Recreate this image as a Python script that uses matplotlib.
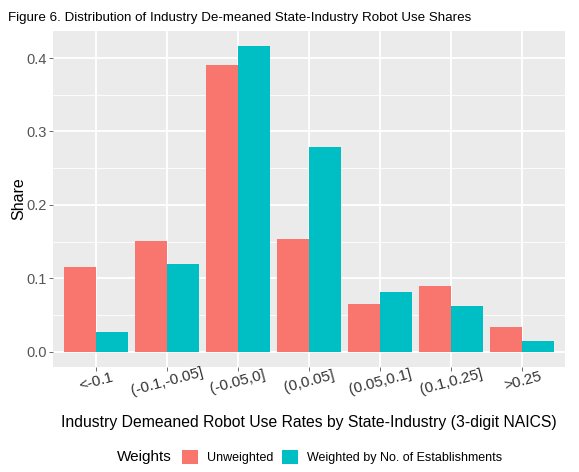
import numpy as np
import matplotlib
matplotlib.use("Agg")
import matplotlib.pyplot as plt
from matplotlib.patches import Patch

# data
categories = ["<-0.1", "(-0.1,-0.05]", "(-0.05,0]", "(0,0.05]",
              "(0.05,0.1]", "(0.1,0.25]", ">0.25"]
unweighted = [0.116, 0.151, 0.390, 0.153, 0.065, 0.089, 0.033]
weighted = [0.027, 0.119, 0.416, 0.279, 0.081, 0.062, 0.014]
series_names = ["Unweighted", "Weighted by No. of Establishments"]
y_ticks = [0.0, 0.1, 0.2, 0.3, 0.4]

red = "#F8766D"
teal = "#00BFC4"

plt.rcParams["font.family"] = ["Liberation Sans", "DejaVu Sans"]

fig = plt.figure(figsize=(5.79, 4.72), dpi=100)
ax = fig.add_axes([53 / 579, 1 - 367 / 472, 512 / 579, 336 / 472])

x = np.arange(len(categories))
w = 0.45
ax.bar(x - w / 2, unweighted, width=w, color=red, zorder=3)
ax.bar(x + w / 2, weighted, width=w, color=teal, zorder=3)

# ggplot grey theme
ax.set_facecolor("#EBEBEB")
for s in ax.spines.values():
    s.set_visible(False)
ax.set_xlim(-0.6, len(categories) - 0.4)
ax.set_ylim(-0.0208, 0.4368)
ax.set_yticks(y_ticks)
ax.set_yticklabels(["%.1f" % v for v in y_ticks])
ax.set_yticks([0.05, 0.15, 0.25, 0.35], minor=True)
ax.grid(which="major", color="white", linewidth=1.3, zorder=0)
ax.grid(which="minor", axis="y", color="white", linewidth=0.6, zorder=0)
ax.set_axisbelow(True)

ax.set_xticks(x)
ax.set_xticklabels(categories, rotation=15, ha="center", va="center",
                   rotation_mode="anchor")
ax.tick_params(axis="x", length=2.75, width=0.6, color="#555555",
               labelsize=11, labelcolor="#333333", pad=7.8)
ax.tick_params(axis="y", length=2.75, width=0.6, color="#555555",
               labelsize=10.5, labelcolor="#555555", pad=1.5)
ax.tick_params(which="minor", length=0)

ax.set_ylabel("Share", fontsize=11.5, va="center")
ax.yaxis.set_label_coords(-0.066, 0.5)
ax.set_xlabel("Industry Demeaned Robot Use Rates by State-Industry (3-digit NAICS)",
              fontsize=11.3, va="center")
ax.xaxis.set_label_coords(0.5, -0.164)

fig.text(8 / 579, 1 - 18 / 472,
         "Figure 6. Distribution of Industry De-meaned State-Industry Robot Use Shares",
         fontsize=9.6, va="center", ha="left")

# legend at bottom, ggplot style with title on the left
fig.text(117 / 579, 1 - 457 / 472, "Weights", fontsize=11, va="center", ha="left")
handles = [Patch(facecolor=red, edgecolor="none"), Patch(facecolor=teal, edgecolor="none")]
fig.legend(handles, series_names, ncol=2, loc="center left",
           bbox_to_anchor=(182 / 579, 1 - 457 / 472), frameon=False,
           fontsize=9, handlelength=1.28, handleheight=1.28,
           handletextpad=0.72, columnspacing=0.72, borderpad=0, borderaxespad=0)

fig.savefig("out.png", dpi=100)
